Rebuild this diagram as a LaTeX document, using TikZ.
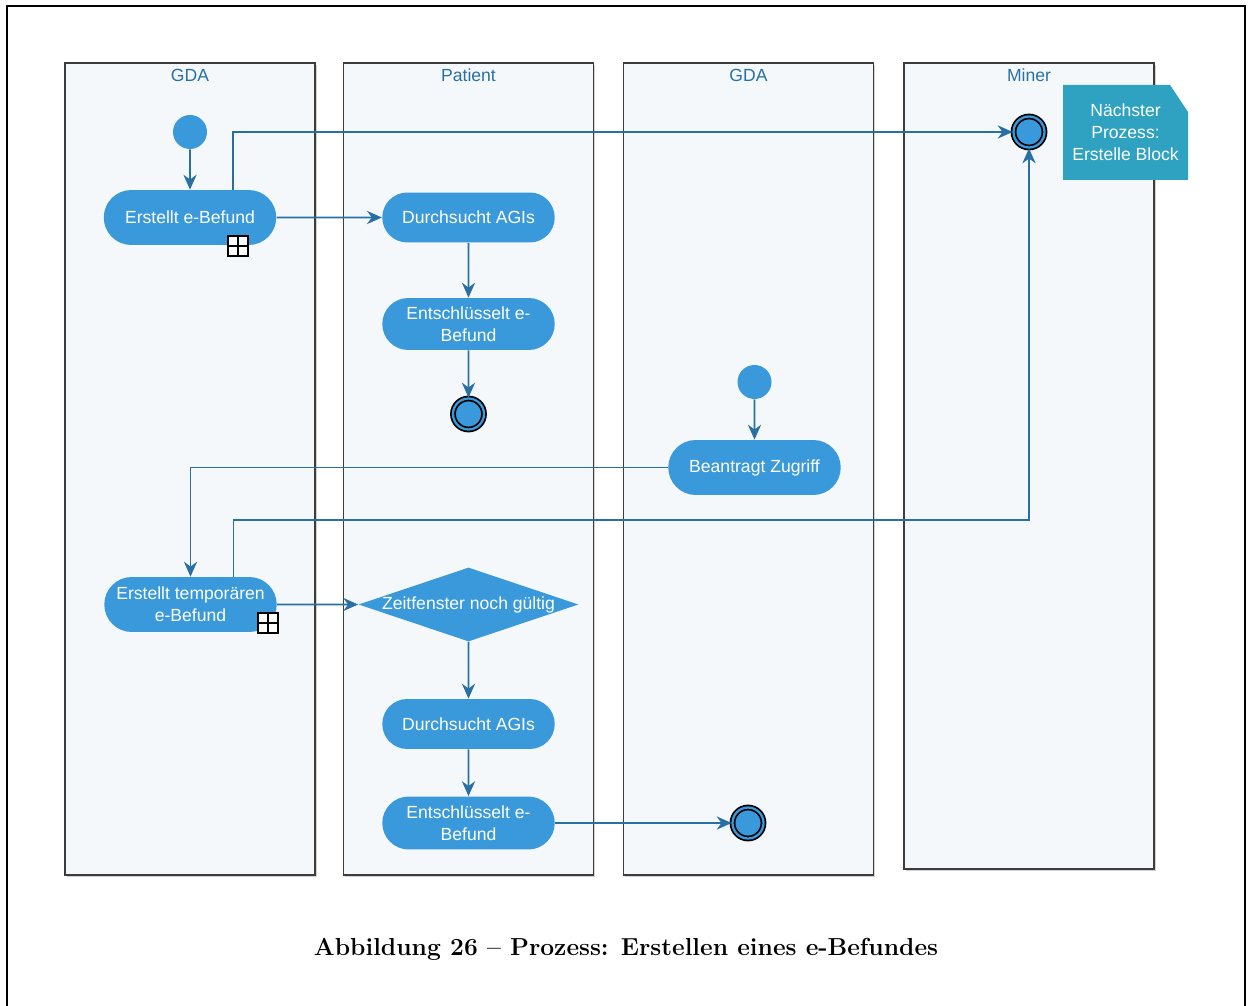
\documentclass[tikz,border=0pt]{standalone}
\usepackage{fontspec}
\newfontfamily\diafont{Liberation Sans}
\usetikzlibrary{shapes.geometric,shapes.misc,arrows.meta,shadows}
\definecolor{actblue}{RGB}{58,153,219}
\definecolor{flowblue}{RGB}{40,112,163}
\definecolor{lanefill}{RGB}{244,248,251}
\definecolor{laneline}{RGB}{60,60,60}
\definecolor{notecol}{RGB}{46,162,192}

\begin{document}
\begin{tikzpicture}[x=0.02cm, y=-0.02cm, >={Stealth[length=8.5pt,width=7.5pt]},
    font=\diafont\fontsize{10}{12.5}\selectfont,
    lane node/.style={draw=laneline, fill=lanefill, line width=0.8pt, minimum width=5cm, minimum height=16.24cm,
        drop shadow={shadow xshift=1pt, shadow yshift=-1pt, opacity=0.35}},
    lane title/.style={text=flowblue},
    act node/.style={rounded rectangle, fill=actblue, text=white, minimum width=3.52cm, minimum height=1cm, align=center, inner sep=1pt},
    start node/.style={circle, fill=actblue, minimum size=0.68cm, inner sep=0pt},
    end node/.style={circle, fill=actblue, draw=black, line width=1pt, double=actblue, double distance=1.3pt, minimum size=0.62cm, inner sep=0pt},
    dec node/.style={diamond, fill=actblue, minimum width=4.4cm, minimum height=1.48cm, inner sep=0pt},
    sub icon/.style={draw=black, fill=white, line width=0.7pt, minimum size=0.4cm, inner sep=0pt,
        path picture={\draw (path picture bounding box.north) -- (path picture bounding box.south)
            (path picture bounding box.west) -- (path picture bounding box.east);}},
    flow/.style={->, draw=flowblue, line width=1.1pt}]
    \useasboundingbox (0,0) rectangle (1251,1006);
    \draw[black, line width=1.5pt] (7,1006) -- (7,6) -- (1245,6) -- (1245,1006);

    % swimlanes
    \node[lane node] (gda) at (190,469) {};
    \node[lane node] (patient) at (468.5,469) {};
    \node[lane node] (gda2) at (748.5,469) {};
    \node[lane node, minimum height=16.12cm] (miner) at (1029,466) {};
    \node[lane title] (t1) at (190,75) {GDA};
    \node[lane title] (t2) at (468.5,75) {Patient};
    \node[lane title] (t3) at (748.5,75) {GDA};
    \node[lane title] (t4) at (1029,75) {Miner};

    % note
    \fill[notecol] (1063,85) -- (1170,85) -- (1188,112) -- (1188,180) -- (1063,180) -- cycle;
    \node[text=white, align=center] (note) at (1125.5,132.5) {Nächster\\Prozess:\\Erstelle Block};

    % actions
    \node[start node] (1) at (190,132) {};
    \node[act node, minimum height=1.1cm] (2) at (190,217.5) {Erstellt e-Befund};
    \node[sub icon] (3) at (238,246) {};
    \node[act node] (4) at (468.5,217.5) {Durchsucht AGIs};
    \node[act node, minimum height=1.04cm] (5) at (468.5,324) {Entschlüsselt e-\\Befund};
    \node[end node] (6) at (468.5,414) {};
    \node[start node] (7) at (754.5,382) {};
    \node[act node, minimum height=1.1cm] (8) at (754.5,467.5) {Beantragt Zugriff};
    \node[act node, minimum height=1.1cm] (9) at (190.5,604.5) {Erstellt temporären\\e-Befund};
    \node[sub icon] (10) at (268,623) {};
    \node[dec node, label={[text=white]center:Zeitfenster noch gültig}] (11) at (468.5,604.5) {};
    \node[act node] (12) at (468.5,724) {Durchsucht AGIs};
    \node[act node, minimum height=1.06cm] (13) at (468.5,823) {Entschlüsselt e-\\Befund};
    \node[end node] (14) at (748,823) {};
    \node[end node] (15) at (1029,132) {};

    % flows
    \draw[flow] (1) -- (2);
    \draw[flow] ([xshift=0.86cm]2.north) |- (15);
    \draw[flow] (2) -- (4);
    \draw[flow] (4) -- (5);
    \draw[flow] (5) -- (6);
    \draw[flow] (7) -- (8);
    \draw[flow] (8) -| (9);
    \draw[flow] ([xshift=0.86cm]9.north) -- ++(0,-57) -| (15);
    \draw[flow] (9) -- (11);
    \draw[flow] (11) -- (12);
    \draw[flow] (12) -- (13);
    \draw[flow] (13) -- (14);

    \node[font=\rmfamily\bfseries\fontsize{14}{16}\selectfont] (cap) at (626,949) {Abbildung 26 – Prozess: Erstellen eines e-Befundes};
\end{tikzpicture}
\end{document}
